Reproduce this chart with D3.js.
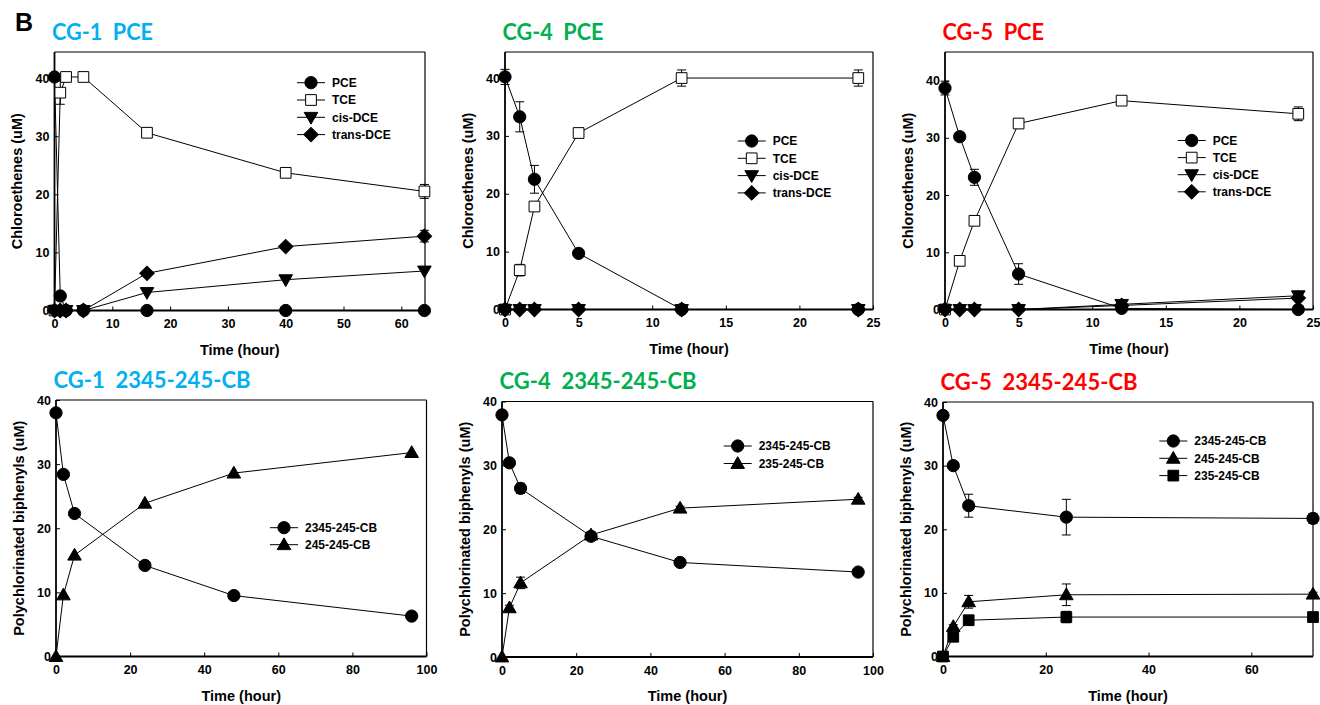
<!DOCTYPE html>
<html>
<head>
<meta charset="utf-8">
<script src="https://cdn.jsdelivr.net/npm/d3@7"></script>
<style>
  body { margin: 0; background: #fff; }
  svg { display: block; }
  .tick text { font-family: "Liberation Sans", Arial, sans-serif; font-weight: bold; font-size: 12.5px; fill: #000; }
  .tick line { stroke: #000; stroke-width: 1; }
  .axtitle { font-family: "Liberation Sans", Arial, sans-serif; font-weight: bold; font-size: 14.5px; fill: #000; }
  .leg { font-family: "Liberation Sans", Arial, sans-serif; font-weight: bold; font-size: 12px; fill: #000; }
  .ptitle { font-family: Lato, "Open Sans", sans-serif; font-weight: bold; font-size: 23px; white-space: pre; }
</style>
</head>
<body>
<div id="fig"></div>
<script>
// ---- data ----
// CG-1 PCE
var cg1PceTime = [0, 1, 2, 5, 16, 40, 64];
var cg1Pce = [40.2, 2.5, 0, 0, 0, 0, 0];
var cg1Tce = [0, 37.5, 40.2, 40.2, 30.6, 23.7, 20.5];
var cg1TceErr = [0, 2.0, 0, 0, 0.3, 0.6, 1.2];
var cg1Cis = [0, 0, 0, 0, 3.1, 5.3, 6.8];
var cg1Trans = [0, 0, 0, 0, 6.4, 11.0, 12.8];
var cg1TransErr = [0, 0, 0, 0, 0.3, 0.5, 1.0];

// CG-4 PCE
var cg4PceTime = [0, 1, 2, 5, 12, 24];
var cg4Pce = [40.2, 33.3, 22.5, 9.7, 0, 0];
var cg4PceErr = [1.3, 2.6, 2.4, 0.3, 0, 0];
var cg4Tce = [0, 6.8, 17.8, 30.5, 40.0, 40.0];
var cg4TceErr = [0.3, 1.0, 0.4, 0.8, 1.4, 1.4];
var cg4Cis = [0, 0, 0, 0, 0, 0];
var cg4Trans = [0, 0, 0, 0, 0, 0];

// CG-5 PCE
var cg5PceTime = [0, 1, 2, 5, 12, 24];
var cg5Pce = [38.7, 30.2, 23.1, 6.2, 0.2, 0];
var cg5PceErr = [1.2, 0.4, 1.4, 1.8, 0, 0];
var cg5Tce = [0, 8.5, 15.5, 32.5, 36.5, 34.2];
var cg5TceErr = [0, 0.3, 0.4, 0.3, 0.5, 1.2];
var cg5Cis = [0, 0, 0, 0, 0.9, 2.4];
var cg5Trans = [0, 0, 0, 0, 0.7, 2.0];

// CG-1 2345-245-CB
var cg1PcbTime = [0, 2, 5, 24, 48, 96];
var cg1Cb2345 = [38.0, 28.4, 22.3, 14.2, 9.5, 6.3];
var cg1Cb245 = [0, 9.6, 15.8, 23.9, 28.6, 31.8];

// CG-4 2345-245-CB
var cg4PcbTime = [0, 2, 5, 24, 48, 96];
var cg4Cb2345 = [37.9, 30.4, 26.4, 18.9, 14.8, 13.3];
var cg4Cb2345Err = [0, 0.3, 0.8, 0.5, 0.3, 0.3];
var cg4Cb235 = [0, 7.7, 11.6, 19.1, 23.3, 24.7];
var cg4Cb235Err = [0, 0.4, 0.9, 0.5, 0.3, 0.3];

// CG-5 2345-245-CB
var cg5PcbTime = [0, 2, 5, 24, 72];
var cg5Cb2345 = [37.9, 30.0, 23.7, 21.9, 21.7];
var cg5Cb2345Err = [0.3, 0.3, 1.8, 2.8, 0.8];
var cg5Cb245 = [0, 4.7, 8.6, 9.7, 9.8];
var cg5Cb245Err = [0, 0.3, 1.0, 1.7, 0.3];
var cg5Cb235 = [0, 3.1, 5.7, 6.2, 6.2];
var cg5Cb235Err = [0, 0.4, 0.4, 0.9, 0.3];

// ticks and labels
var yTicks = [0, 10, 20, 30, 40];
var xTicks64 = [0, 10, 20, 30, 40, 50, 60];
var xTicks25 = [0, 5, 10, 15, 20, 25];
var xTicks100 = [0, 20, 40, 60, 80, 100];
var xTicks72 = [0, 20, 40, 60];
var pceNames = ["PCE", "TCE", "cis-DCE", "trans-DCE"];
var xLabel = "Time (hour)";
var yLabelPce = "Chloroethenes (uM)";
var yLabelPcb = "Polychlorinated biphenyls (uM)";

var blue = "#00B0F0", green = "#00B050", red = "#FF0000";

var W = 1320, H = 705;
var svg = d3.select("#fig").append("svg")
    .attr("width", W).attr("height", H);
svg.append("rect").attr("width", W).attr("height", H).attr("fill", "#fff");

svg.append("text")
    .attr("x", 15).attr("y", 31)
    .attr("font-family", "Liberation Sans, Arial, sans-serif")
    .attr("font-weight", "bold").attr("font-size", 25)
    .text("B");

// symbol paths
var sym = {
    circle: d3.symbol(d3.symbolCircle, 118)(),
    square: d3.symbol(d3.symbolSquare, 115)(),
    tri: d3.symbol(d3.symbolTriangle, 80)(),
    diamond: d3.symbol(d3.symbolSquare, 104)()
};
function drawMarker(g, type, x, y) {
    var p = g.append("path").attr("stroke", "#000").attr("stroke-width", 1);
    if (type == "circle") p.attr("d", sym.circle).attr("fill", "#000").attr("transform", `translate(${x},${y})`);
    if (type == "openSquare") p.attr("d", sym.square).attr("fill", "#fff").attr("transform", `translate(${x},${y})`);
    if (type == "square") p.attr("d", sym.square).attr("fill", "#000").attr("transform", `translate(${x},${y})`);
    if (type == "triUp") p.attr("d", sym.tri).attr("fill", "#000").attr("transform", `translate(${x},${y + 1})`);
    if (type == "triDown") p.attr("d", sym.tri).attr("fill", "#000").attr("transform", `translate(${x},${y - 1}) rotate(180)`);
    if (type == "diamond") p.attr("d", sym.diamond).attr("fill", "#000").attr("transform", `translate(${x},${y}) rotate(45)`);
}

function series(name, time, vals, err, marker) {
    return {name: name, time: time, vals: vals, err: err, marker: marker};
}

var panels = [
    {title: "CG-1  PCE", color: blue, tw: 101, box: [54.5, 425, 52, 310.5], xMax: 64.1, yMax: 44.5,
     xTicks: xTicks64, yLabel: yLabelPce, leg: [311, 82.7, 17.3],
     series: [series(pceNames[0], cg1PceTime, cg1Pce, null, "circle"),
              series(pceNames[1], cg1PceTime, cg1Tce, cg1TceErr, "openSquare"),
              series(pceNames[2], cg1PceTime, cg1Cis, null, "triDown"),
              series(pceNames[3], cg1PceTime, cg1Trans, cg1TransErr, "diamond")]},
    {title: "CG-4  PCE", color: green, tw: 101, box: [505, 873, 52, 309.5], xMax: 25, yMax: 44.5,
     xTicks: xTicks25, yLabel: yLabelPce, leg: [751.7, 141, 17.3],
     series: [series(pceNames[0], cg4PceTime, cg4Pce, cg4PceErr, "circle"),
              series(pceNames[1], cg4PceTime, cg4Tce, cg4TceErr, "openSquare"),
              series(pceNames[2], cg4PceTime, cg4Cis, null, "triDown"),
              series(pceNames[3], cg4PceTime, cg4Trans, null, "diamond")]},
    {title: "CG-5  PCE", color: red, tw: 101.5, box: [945, 1313, 52, 309.5], xMax: 25, yMax: 45,
     xTicks: xTicks25, yLabel: yLabelPce, leg: [1191.7, 140.5, 17.1],
     series: [series(pceNames[0], cg5PceTime, cg5Pce, cg5PceErr, "circle"),
              series(pceNames[1], cg5PceTime, cg5Tce, cg5TceErr, "openSquare"),
              series(pceNames[2], cg5PceTime, cg5Cis, null, "triDown"),
              series(pceNames[3], cg5PceTime, cg5Trans, null, "diamond")]},
    {title: "CG-1  2345-245-CB", color: blue, tw: 197, box: [56, 426.5, 400, 656.5], xMax: 100, yMax: 40,
     xTicks: xTicks100, yLabel: yLabelPcb, leg: [284, 527.7, 17],
     series: [series("2345-245-CB", cg1PcbTime, cg1Cb2345, null, "circle"),
              series("245-245-CB", cg1PcbTime, cg1Cb245, null, "triUp")]},
    {title: "CG-4  2345-245-CB", color: green, tw: 197, box: [502, 873, 401.5, 657], xMax: 100, yMax: 40,
     xTicks: xTicks100, yLabel: yLabelPcb, leg: [737.7, 446, 17.5],
     series: [series("2345-245-CB", cg4PcbTime, cg4Cb2345, cg4Cb2345Err, "circle"),
              series("235-245-CB", cg4PcbTime, cg4Cb235, cg4Cb235Err, "triUp")]},
    {title: "CG-5  2345-245-CB", color: red, tw: 197, box: [943, 1313, 402, 656.5], xMax: 72, yMax: 40,
     xTicks: xTicks72, yLabel: yLabelPcb, leg: [1173.3, 441, 17.3],
     series: [series("2345-245-CB", cg5PcbTime, cg5Cb2345, cg5Cb2345Err, "circle"),
              series("245-245-CB", cg5PcbTime, cg5Cb245, cg5Cb245Err, "triUp"),
              series("235-245-CB", cg5PcbTime, cg5Cb235, cg5Cb235Err, "square")]}
];

var drawPanel = function(p) {
    var L = p.box[0], R = p.box[1], T = p.box[2], B = p.box[3];
    var x = d3.scaleLinear().domain([0, p.xMax]).range([L, R]);
    var y = d3.scaleLinear().domain([0, p.yMax]).range([B, T]);
    var g = svg.append("g");

    // title (two spaces kept)
    g.append("text")
        .attr("class", "ptitle")
        .attr("xml:space", "preserve")
        .attr("x", L - 2.5).attr("y", T - 12.5)
        .attr("fill", p.color)
        .attr("textLength", p.tw)
        .attr("lengthAdjust", "spacingAndGlyphs")
        .text(p.title);

    // axes, ticks inward
    var xa = g.append("g").attr("transform", `translate(0,${B})`)
        .call(d3.axisBottom(x).tickValues(p.xTicks).tickSize(-4).tickPadding(9).tickFormat(d3.format("d")));
    var ya = g.append("g").attr("transform", `translate(${L},0)`)
        .call(d3.axisLeft(y).tickValues(yTicks).tickSize(-4).tickPadding(5).tickFormat(d3.format("d")));
    [xa, ya].forEach(a => {
        a.select(".domain").remove();
        a.attr("font-family", null).attr("font-size", null);
    });

    // frame
    g.append("line").attr("x1", L).attr("x2", R).attr("y1", T).attr("y2", T).attr("stroke", "#000").attr("stroke-width", 1.2);
    g.append("line").attr("x1", R).attr("x2", R).attr("y1", T).attr("y2", B).attr("stroke", "#000").attr("stroke-width", 1.2);
    g.append("line").attr("x1", L).attr("x2", R).attr("y1", B).attr("y2", B).attr("stroke", "#000").attr("stroke-width", 1.8);
    g.append("line").attr("x1", L).attr("x2", L).attr("y1", T).attr("y2", B).attr("stroke", "#000").attr("stroke-width", 1.8);

    // axis titles
    g.append("text").attr("class", "axtitle")
        .attr("x", (L + R) / 2).attr("y", B + 44)
        .attr("text-anchor", "middle")
        .text(xLabel);
    g.append("text").attr("class", "axtitle")
        .attr("transform", `translate(${L - 37.5},${(T + B) / 2}) rotate(-90)`)
        .attr("text-anchor", "middle").attr("dy", "0.35em")
        .text(p.yLabel);

    // data
    var line = d3.line().x(d => x(d[0])).y(d => y(d[1]));
    p.series.forEach(s => {
        var pts = s.time.map((t, i) => [t, s.vals[i], s.err ? s.err[i] : 0]);
        g.append("path").datum(pts)
            .attr("d", line)
            .attr("fill", "none").attr("stroke", "#000").attr("stroke-width", 1);
        pts.filter(d => d[2] > 0).forEach(d => {
            var cx = x(d[0]), y1 = y(d[1] - d[2]), y2 = y(d[1] + d[2]);
            g.append("line").attr("x1", cx).attr("x2", cx).attr("y1", y1).attr("y2", y2).attr("stroke", "#000");
            g.append("line").attr("x1", cx - 4.5).attr("x2", cx + 4.5).attr("y1", y1).attr("y2", y1).attr("stroke", "#000");
            g.append("line").attr("x1", cx - 4.5).attr("x2", cx + 4.5).attr("y1", y2).attr("y2", y2).attr("stroke", "#000");
        });
        pts.forEach(d => drawMarker(g, s.marker, x(d[0]), y(d[1])));
    });

    // legend
    var lg = g.append("g");
    p.series.forEach((s, i) => {
        var ly = p.leg[1] + i * p.leg[2], lx = p.leg[0];
        lg.append("line").attr("x1", lx - 14).attr("x2", lx + 14).attr("y1", ly).attr("y2", ly).attr("stroke", "#000");
        drawMarker(lg, s.marker, lx, ly);
        lg.append("text").attr("class", "leg")
            .attr("x", lx + 21).attr("y", ly).attr("dy", "0.36em")
            .text(s.name);
    });
}

panels.forEach(p => drawPanel(p));
</script>
</body>
</html>
